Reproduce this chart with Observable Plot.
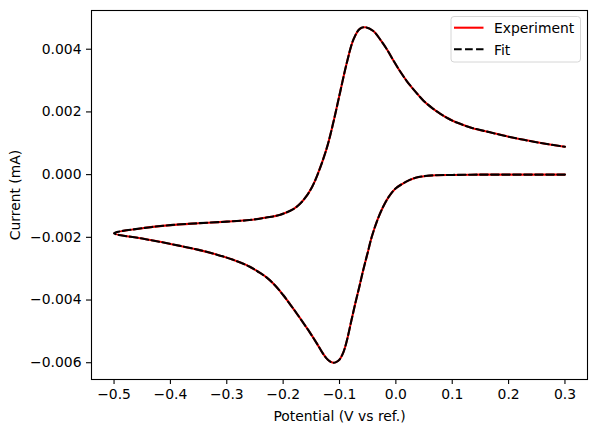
<!DOCTYPE html>
<html><head><meta charset="utf-8">
<script src="https://cdn.jsdelivr.net/npm/d3@7"></script>
<script src="https://cdn.jsdelivr.net/npm/@observablehq/plot@0.6"></script>
<style>
body{margin:0;background:#fff;}
#wrap{position:relative;width:596px;height:432px;background:#fff;font-family:"DejaVu Sans";}
#legend{position:absolute;left:0;top:0;pointer-events:none;}
</style></head><body><div id="wrap"></div>
<script>
// Scan path: starts at 0.3 V, sweeps negative to -0.5 V, then back to 0.3 V
const potential = [
  // cathodic sweep (0.3 -> -0.5)
  0.300, 0.250, 0.200, 0.150, 0.100, 0.070, 0.050, 0.035, 0.022, 0.011,
  -0.001, -0.013, -0.023, -0.033, -0.043, -0.050, -0.058, -0.065, -0.072, -0.079,
  -0.087, -0.093, -0.100, -0.106, -0.111, -0.117, -0.123, -0.131, -0.140, -0.155,
  -0.170, -0.185, -0.200, -0.215, -0.230, -0.245, -0.260, -0.290, -0.320, -0.350,
  -0.400, -0.450, -0.500,
  // anodic sweep (-0.5 -> 0.3)
  -0.450, -0.400, -0.350, -0.300, -0.260, -0.230, -0.205, -0.182, -0.170, -0.158,
  -0.148, -0.140, -0.123, -0.111, -0.099, -0.087, -0.075, -0.064, -0.054, -0.040,
  -0.027, -0.016, -0.005, 0.008, 0.020, 0.035, 0.049, 0.064, 0.079, 0.093,
  0.108, 0.135, 0.167, 0.200, 0.227, 0.260, 0.300
];
const expCurrent = [
  0.00000, 0.00000, 0.00000, 0.00000, -0.00001, -0.00002, -0.00005, -0.00010, -0.00019, -0.00030,
  -0.00045, -0.00072, -0.00104, -0.00146, -0.00200, -0.00249, -0.00305, -0.00359, -0.00411, -0.00466,
  -0.00530, -0.00566, -0.00590, -0.00598, -0.00600, -0.00596, -0.00586, -0.00566, -0.00539, -0.00497,
  -0.00458, -0.00420, -0.00384, -0.00352, -0.00327, -0.00309, -0.00293, -0.00271, -0.00254, -0.00240,
  -0.00221, -0.00204, -0.00187,
  -0.00171, -0.00161, -0.00155, -0.00150, -0.00145, -0.00137, -0.00128, -0.00110, -0.00093, -0.00067,
  -0.00037, -0.00005, 0.00082, 0.00166, 0.00262, 0.00357, 0.00432, 0.00465, 0.00470, 0.00458,
  0.00429, 0.00400, 0.00366, 0.00328, 0.00297, 0.00264, 0.00236, 0.00213, 0.00194, 0.00179,
  0.00166, 0.00149, 0.00135, 0.00121, 0.00111, 0.00100, 0.00089
];
// The fit overlays the experiment within pixel precision in the reference
const fitCurrent = [
  0.00000, 0.00000, 0.00000, 0.00000, -0.00001, -0.00002, -0.00005, -0.00010, -0.00019, -0.00030,
  -0.00045, -0.00072, -0.00104, -0.00146, -0.00200, -0.00249, -0.00305, -0.00359, -0.00411, -0.00466,
  -0.00530, -0.00566, -0.00590, -0.00598, -0.00600, -0.00596, -0.00586, -0.00566, -0.00539, -0.00497,
  -0.00458, -0.00420, -0.00384, -0.00352, -0.00327, -0.00309, -0.00293, -0.00271, -0.00254, -0.00240,
  -0.00221, -0.00204, -0.00187,
  -0.00171, -0.00161, -0.00155, -0.00150, -0.00145, -0.00137, -0.00128, -0.00110, -0.00093, -0.00067,
  -0.00037, -0.00005, 0.00082, 0.00166, 0.00262, 0.00357, 0.00432, 0.00465, 0.00470, 0.00458,
  0.00429, 0.00400, 0.00366, 0.00328, 0.00297, 0.00264, 0.00236, 0.00213, 0.00194, 0.00179,
  0.00166, 0.00149, 0.00135, 0.00121, 0.00111, 0.00100, 0.00089
];
const xTicks = [-0.5, -0.4, -0.3, -0.2, -0.1, 0.0, 0.1, 0.2, 0.3];
const yTicks = [-0.006, -0.004, -0.002, 0.000, 0.002, 0.004];
const seriesNames = ["Experiment", "Fit"];
const seriesColors = ["#ff0000", "#000000"];

const data = potential.map((v, i) => ({v, exp: expCurrent[i], fit: fitCurrent[i]}));

const plot = Plot.plot({
  width: 596, height: 432,
  marginLeft: 91, marginRight: 9, marginTop: 10, marginBottom: 53,
  style: {fontFamily: "DejaVu Sans", fontSize: "13.9px", color: "black", background: "white", overflow: "visible"},
  x: {domain: [-0.54, 0.34]},
  y: {domain: [-0.006535, 0.005235]},
  marks: [
    Plot.line(data, {x: "v", y: "exp", stroke: seriesColors[0], strokeWidth: 2.08, curve: "catmull-rom"}),
    Plot.line(data, {x: "v", y: "fit", stroke: seriesColors[1], strokeWidth: 2.08, strokeDasharray: "7.7,3.33", curve: "catmull-rom"}),
    Plot.frame({stroke: "black", strokeWidth: 1.1}),
    Plot.axisX({ticks: xTicks, tickFormat: d3.format(".1f"), tickSize: 5, tickPadding: 5, strokeWidth: 1.1,
      label: "Potential (V vs ref.)", labelAnchor: "center", labelArrow: "none", labelOffset: 41}),
    Plot.axisY({ticks: yTicks, tickFormat: d3.format(".3f"), tickSize: 5, tickPadding: 5, strokeWidth: 1.1,
      label: "Current (mA)", labelAnchor: "center", labelArrow: "none", labelOffset: 81})
  ]
});
const wrap = document.getElementById("wrap");
wrap.appendChild(plot);

// Legend (matplotlib-style box, upper right)
const ns = "http://www.w3.org/2000/svg";
const lg = document.createElementNS(ns, "svg");
lg.setAttribute("id", "legend");
lg.setAttribute("width", 596); lg.setAttribute("height", 432);
const box = document.createElementNS(ns, "rect");
box.setAttribute("x", 451); box.setAttribute("y", 16.5);
box.setAttribute("width", 129.5); box.setAttribute("height", 45.5);
box.setAttribute("rx", 3); box.setAttribute("fill", "white"); box.setAttribute("fill-opacity", 0.8);
box.setAttribute("stroke", "#d6d6d6"); box.setAttribute("stroke-width", 1);
lg.appendChild(box);
seriesNames.forEach((name, i) => {
  const cy = 27.7 + i * 21.6;
  const ln = document.createElementNS(ns, "line");
  ln.setAttribute("x1", 454); ln.setAttribute("x2", 483.5);
  ln.setAttribute("y1", cy); ln.setAttribute("y2", cy);
  ln.setAttribute("stroke", seriesColors[i]); ln.setAttribute("stroke-width", 2.08);
  if (i === 1) ln.setAttribute("stroke-dasharray", "7.7,3.33");
  lg.appendChild(ln);
  const tx = document.createElementNS(ns, "text");
  tx.setAttribute("x", 494); tx.setAttribute("y", cy + 5.5);
  tx.setAttribute("font-family", "DejaVu Sans"); tx.setAttribute("font-size", "13.9px");
  tx.setAttribute("fill", "black");
  tx.textContent = name;
  lg.appendChild(tx);
});
wrap.appendChild(lg);
</script></body></html>
